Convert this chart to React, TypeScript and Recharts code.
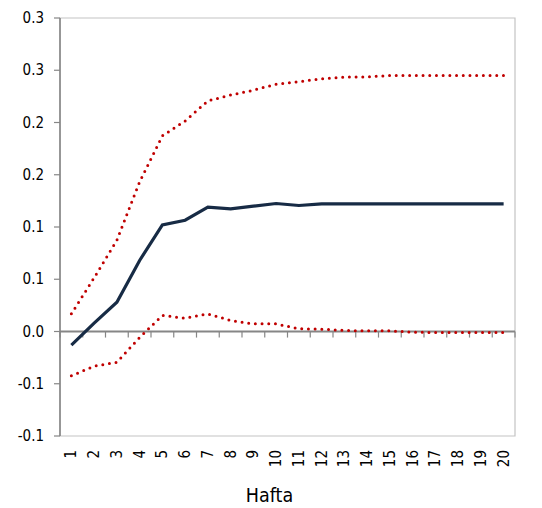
import React from 'react';
import { LineChart, Line, XAxis, YAxis, ReferenceLine, ReferenceArea } from 'recharts';

const weeks = [1, 2, 3, 4, 5, 6, 7, 8, 9, 10, 11, 12, 13, 14, 15, 16, 17, 18, 19, 20];
const response = [-0.013, 0.008, 0.028, 0.068, 0.102, 0.1065, 0.119, 0.1174, 0.12, 0.1225, 0.1206, 0.1222, 0.1222, 0.1222, 0.1222, 0.1222, 0.1222, 0.1222, 0.1222, 0.1222];
const upperBand = [0.0169, 0.0514, 0.0874, 0.1432, 0.1873, 0.2015, 0.2207, 0.2263, 0.2309, 0.2367, 0.2391, 0.2418, 0.2434, 0.2437, 0.245, 0.245, 0.245, 0.245, 0.245, 0.245];
const lowerBand = [-0.0424, -0.0332, -0.0294, -0.0057, 0.0153, 0.0128, 0.0168, 0.0106, 0.0073, 0.0073, 0.0026, 0.0022, 0.001, 0.0006, 0.0006, -0.0006, -0.001, -0.001, -0.001, -0.001];

const yTicks = [-0.1, -0.05, 0, 0.05, 0.1, 0.15, 0.2, 0.25, 0.3];
const yTickLabels = ['-0.1', '-0.1', '0.0', '0.1', '0.1', '0.2', '0.2', '0.3', '0.3'];
const categoryEdges = [0.5, 1.5, 2.5, 3.5, 4.5, 5.5, 6.5, 7.5, 8.5, 9.5, 10.5, 11.5, 12.5, 13.5, 14.5, 15.5, 16.5, 17.5, 18.5, 19.5, 20.5];
const xTitle = 'Hafta';

const data = weeks.map((w, i) => ({ x: w, irf: response[i], up: upperBand[i], lo: lowerBand[i] }));

const FONT = 'Tahoma, "DejaVu Sans Condensed", "Open Sans", sans-serif';
const AXIS_GRAY = '#868686';
const BORDER_GRAY = '#c4c4c4';
const RED = '#c00000';
const NAVY = '#172b45';
const TICK_LEN = 0.0058;

const XTick = (props: any) => {
  const { x, y, payload } = props;
  return (
    <text
      x={x}
      y={y}
      transform={`rotate(-90, ${x}, ${y})`}
      textAnchor="end"
      dominantBaseline="central"
      fontSize={15}
      fontFamily={FONT}
      fill="#000"
    >
      {payload.value}
    </text>
  );
};

const YTick = (props: any) => {
  const { x, y, payload, index } = props;
  const idx = yTicks.findIndex((t) => Math.abs(t - payload.value) < 1e-9);
  return (
    <text x={x} y={y} textAnchor="end" dominantBaseline="central" fontSize={15} fontFamily={FONT} fill="#000">
      {yTickLabels[idx >= 0 ? idx : index]}
    </text>
  );
};

export default function App() {
  return (
    <div style={{ position: 'absolute', left: 0, top: 0, background: '#fff' }}>
      <LineChart width={542} height={508} data={data} margin={{ top: 18, right: 27, bottom: 0, left: 0 }}>
        <ReferenceArea x1={0.5} x2={20.5} y1={-0.1} y2={0.3} stroke={BORDER_GRAY} strokeWidth={1.2} fill="none" fillOpacity={0} />
        <XAxis
          type="number"
          dataKey="x"
          domain={[0.5, 20.5]}
          ticks={weeks}
          interval={0}
          axisLine={false}
          tickLine={false}
          tickSize={0}
          tickMargin={14}
          height={72}
          tick={<XTick />}
          label={{ value: xTitle, position: 'insideBottom', offset: 6, dx: -18, fontSize: 19.5, fontFamily: FONT, fill: '#000' }}
        />
        <YAxis
          type="number"
          domain={[-0.1, 0.3]}
          ticks={yTicks}
          interval={0}
          width={60}
          axisLine={{ stroke: AXIS_GRAY, strokeWidth: 1.6 }}
          tickLine={{ stroke: AXIS_GRAY, strokeWidth: 1.2 }}
          tickSize={6}
          tickMargin={10}
          tick={<YTick />}
        />
        <ReferenceLine y={0} stroke={AXIS_GRAY} strokeWidth={1.8} />
        {categoryEdges.map((e) => (
          <ReferenceLine
            key={e}
            segment={[{ x: e, y: 0 }, { x: e, y: -TICK_LEN }]}
            stroke={AXIS_GRAY}
            strokeWidth={1.2}
          />
        ))}
        <Line type="linear" dataKey="up" stroke={RED} strokeWidth={3} strokeLinecap="round" strokeDasharray="0 6.7" dot={false} isAnimationActive={false} />
        <Line type="linear" dataKey="lo" stroke={RED} strokeWidth={3} strokeLinecap="round" strokeDasharray="0 6.7" dot={false} isAnimationActive={false} />
        <Line type="linear" dataKey="irf" stroke={NAVY} strokeWidth={3.2} dot={false} isAnimationActive={false} />
      </LineChart>
    </div>
  );
}
